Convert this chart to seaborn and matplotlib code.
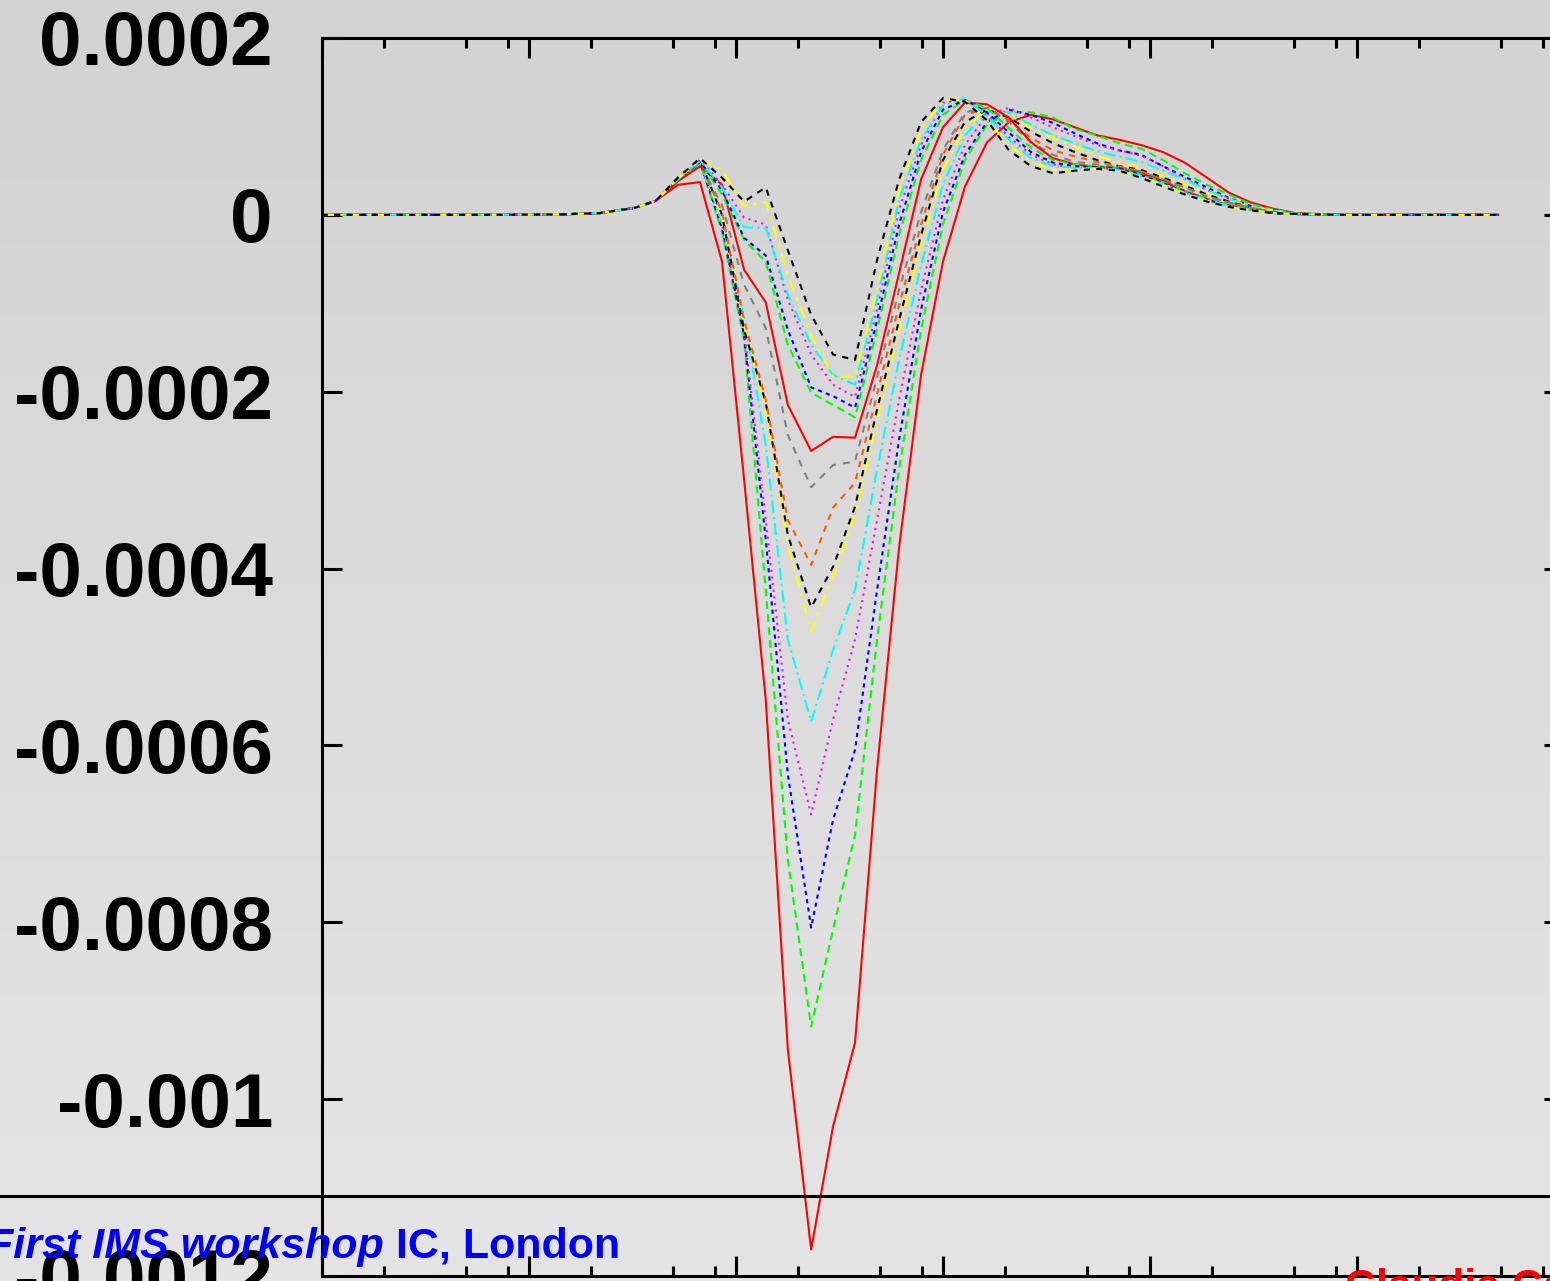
import numpy as np
import pandas as pd
import matplotlib
matplotlib.use("Agg")
import matplotlib.pyplot as plt
from matplotlib.lines import Line2D
from matplotlib.ticker import LogLocator, FixedLocator, FixedFormatter, NullFormatter, NullLocator
import seaborn as sns

# ---------------------------------------------------------------- data
# sample positions along the (log) x axis
x_points = [1.0, 2.99, 7.28, 14.2, 22.1, 32.7, 41.3, 52.7, 67.4, 86.1, 110, 140,
            179, 232, 296, 378, 483, 617, 788, 1005, 1284, 1641, 2094, 2677,
            3420, 4365, 5572, 7125, 9099, 11614, 14825, 18967, 24210, 30903,
            39537, 50466, 83176, 162181, 483059]

# values in units of 1e-6; the first seven and last three points are shared
onset = [0, 0, 0, 0.5, 2, 8, 16]
tail = [0, 0, 0]

curve_01 = [34, 37, -53, -299, -548, -944, -1170, -1031, -936, -627, -376, -181, -53, 32, 82, 105,
            113, 108, 99, 90, 85, 79, 71, 59, 42, 25, 14, 7, 2]
curve_02 = [40, 59, -19, -141, -424, -729, -918, -808, -701, -480, -288, -130, -11, 62, 102, 116,
            116, 110, 97, 90, 81, 75, 62, 47, 34, 23, 12, 6, 2]
curve_03 = [40, 60, -15, -136, -367, -633, -806, -684, -605, -424, -254, -107, 3, 68, 105, 119,
            113, 104, 92, 81, 73, 68, 55, 43, 31, 19, 10, 5, 1]
curve_04 = [41, 62, -11, -130, -345, -571, -678, -571, -480, -345, -209, -85, 17, 79, 113, 121,
            110, 99, 89, 79, 73, 67, 55, 41, 28, 18, 9, 5, 1]
curve_05 = [40, 60, -8, -116, -260, -480, -573, -492, -424, -288, -164, -57, 34, 90, 116, 116,
            102, 90, 81, 72, 66, 60, 50, 40, 28, 18, 10, 5, 1]
curve_06 = [41, 61, -3, -124, -220, -373, -471, -407, -339, -232, -130, -34, 51, 98, 119, 113,
            98, 87, 77, 67, 59, 53, 44, 35, 25, 16, 9, 5, 1]
curve_07 = [42, 62, 0, -130, -212, -362, -444, -398, -330, -220, -119, -23, 62, 105, 119, 110,
            94, 81, 71, 62, 55, 51, 42, 33, 23, 15, 8, 3, 1]
curve_08 = [40, 59, 3, -119, -209, -345, -396, -331, -303, -203, -102, -11, 68, 113, 121, 107,
            87, 73, 66, 60, 55, 49, 40, 31, 21, 14, 8, 3, 1]
curve_09 = [39, 58, 11, -79, -128, -249, -308, -283, -279, -184, -85, 3, 73, 116, 121, 105,
            82, 68, 60, 57, 54, 49, 40, 31, 21, 14, 8, 3, 1]
curve_10 = [38, 55, 34, -62, -99, -215, -267, -251, -252, -170, -66, 40, 99, 127, 125, 110,
            82, 64, 57, 54, 53, 47, 38, 27, 18, 11, 6, 2, 1]
curve_11 = [40, 60, 23, -28, -53, -147, -201, -215, -229, -130, -23, 62, 113, 130, 121, 98,
            76, 62, 57, 55, 53, 46, 37, 27, 18, 11, 6, 2, 1]
curve_12 = [40, 60, 28, -26, -46, -130, -195, -205, -218, -119, -11, 71, 119, 130, 116, 93,
            71, 59, 55, 54, 52, 45, 36, 26, 17, 10, 6, 2, 1]
curve_13 = [41, 62, 34, -3, -11, -96, -158, -192, -206, -107, 6, 79, 127, 130, 113, 88,
            68, 57, 53, 53, 51, 44, 35, 25, 17, 10, 6, 2, 1]
curve_14 = [40, 61, 31, -14, -15, -90, -147, -181, -192, -96, 17, 85, 124, 132, 112, 85,
            64, 55, 53, 53, 51, 44, 35, 25, 17, 10, 6, 2, 1]
curve_15 = [41, 62, 51, 10, 15, -68, -136, -183, -183, -85, 28, 96, 130, 130, 107, 79,
            60, 51, 51, 52, 50, 43, 34, 24, 16, 9, 5, 2, 1]
curve_16 = [42, 64, 42, 15, 31, -40, -113, -158, -164, -51, 40, 105, 132, 128, 107, 73,
            55, 47, 50, 52, 50, 42, 32, 23, 15, 9, 5, 2, 1]

y_ticks = [0.0002, 0.0, -0.0002, -0.0004, -0.0006, -0.0008, -0.001, -0.0012]
y_tick_labels = ["0.0002", "0", "-0.0002", "-0.0004", "-0.0006", "-0.0008", "-0.001", "-0.0012"]

footer_left = "First IMS workshop"
footer_mid = "IC, London"
footer_right = "Claudia Ca"

# ---------------------------------------------------------------- styles
curves = {
    "c01": curve_01, "c02": curve_02, "c03": curve_03, "c04": curve_04,
    "c05": curve_05, "c06": curve_06, "c07": curve_07, "c08": curve_08,
    "c09": curve_09, "c10": curve_10, "c11": curve_11, "c12": curve_12,
    "c13": curve_13, "c14": curve_14, "c15": curve_15, "c16": curve_16,
}
cycle_colors = ["#ff0000", "#00ff00", "#0000ff", "#ff00ff", "#00ffff",
                "#ffff00", "#000000", "#ff5a00", "#808080"]
cycle_dashes = ["", (3.8, 2.4), (2.0, 2.0), (1.0, 2.2), (5.8, 2.0, 1.0, 2.0),
                (6.0, 3.0, 1.6, 3.0), (3.0, 3.0), (3.0, 3.0), (3.4, 3.4)]
order = list(curves)
palette = {k: cycle_colors[i % 9] for i, k in enumerate(order)}
dashes = {k: cycle_dashes[i % 9] for i, k in enumerate(order)}

rows = []
for name in order:
    full = onset + curves[name] + tail
    for xv, yv in zip(x_points, full):
        rows.append((name, xv, yv * 1e-6))
df = pd.DataFrame(rows, columns=["curve", "x", "y"])

# ---------------------------------------------------------------- figure
W, H = 1550, 1281
fig = plt.figure(figsize=(W / 100, H / 100), dpi=100)

bg = fig.add_axes([0, 0, 1, 1], zorder=-10)
grad = np.linspace(0.822, 0.895, 256)[:, None]
bg.imshow(grad, aspect="auto", cmap="gray", vmin=0, vmax=1, extent=[0, 1, 0, 1])
bg.axis("off")

x0, x1 = 321.5, 1563.5
y_top, y_bot = 38, 1276
ax = fig.add_axes([x0 / W, (H - y_bot) / H, (x1 - x0) / W, (y_bot - y_top) / H])
ax.set_facecolor("none")
ax.set_xscale("log")

sns.lineplot(data=df, x="x", y="y", hue="curve", style="curve",
             hue_order=order, style_order=order, palette=palette, dashes=dashes,
             estimator=None, sort=False, legend=False, linewidth=1.5, ax=ax)

ax.set_xlim(1, 1e6)
ax.set_ylim(-0.0012, 0.0002)
ax.set_xlabel("")
ax.set_ylabel("")

ax.xaxis.set_major_locator(LogLocator(base=10, numticks=20))
ax.xaxis.set_minor_locator(LogLocator(base=10, subs=(2, 5, 8), numticks=40))
ax.xaxis.set_major_formatter(NullFormatter())
ax.xaxis.set_minor_formatter(NullFormatter())
ax.tick_params(axis="x", which="both", direction="in", top=True, bottom=True,
               labelbottom=False, width=2.2)
ax.tick_params(axis="x", which="major", length=14.5)
ax.tick_params(axis="x", which="minor", length=7.2)

ax.yaxis.set_major_locator(FixedLocator(y_ticks))
ax.yaxis.set_major_formatter(FixedFormatter(y_tick_labels))
ax.yaxis.set_minor_locator(NullLocator())
ax.tick_params(axis="y", which="major", direction="in", left=True, right=True,
               length=14.5, width=2.2, pad=35, labelsize=55)
for lab in ax.get_yticklabels():
    lab.set_fontfamily("Liberation Sans")
    lab.set_fontweight("bold")

for sp in ax.spines.values():
    sp.set_linewidth(2.2)
    sp.set_color("black")

# footer band
fy = 1 - 1196 / H
fig.add_artist(Line2D([0, 1], [fy, fy], transform=fig.transFigure, color="black", lw=2.2))
fig.text(384 / W, 1 - 1258 / H, footer_left, ha="right", va="baseline", color="#0000ff",
         fontsize=31, fontweight="bold", style="italic", family="Liberation Sans")
fig.text(396 / W, 1 - 1258 / H, footer_mid, ha="left", va="baseline", color="#0000ff",
         fontsize=31, fontweight="bold", family="Liberation Sans")
fig.text(1345 / W, 1 - 1299 / H, footer_right, ha="left", va="baseline", color="#ff0000",
         fontsize=31, fontweight="bold", family="Liberation Sans")

fig.savefig("out.png", dpi=100)
